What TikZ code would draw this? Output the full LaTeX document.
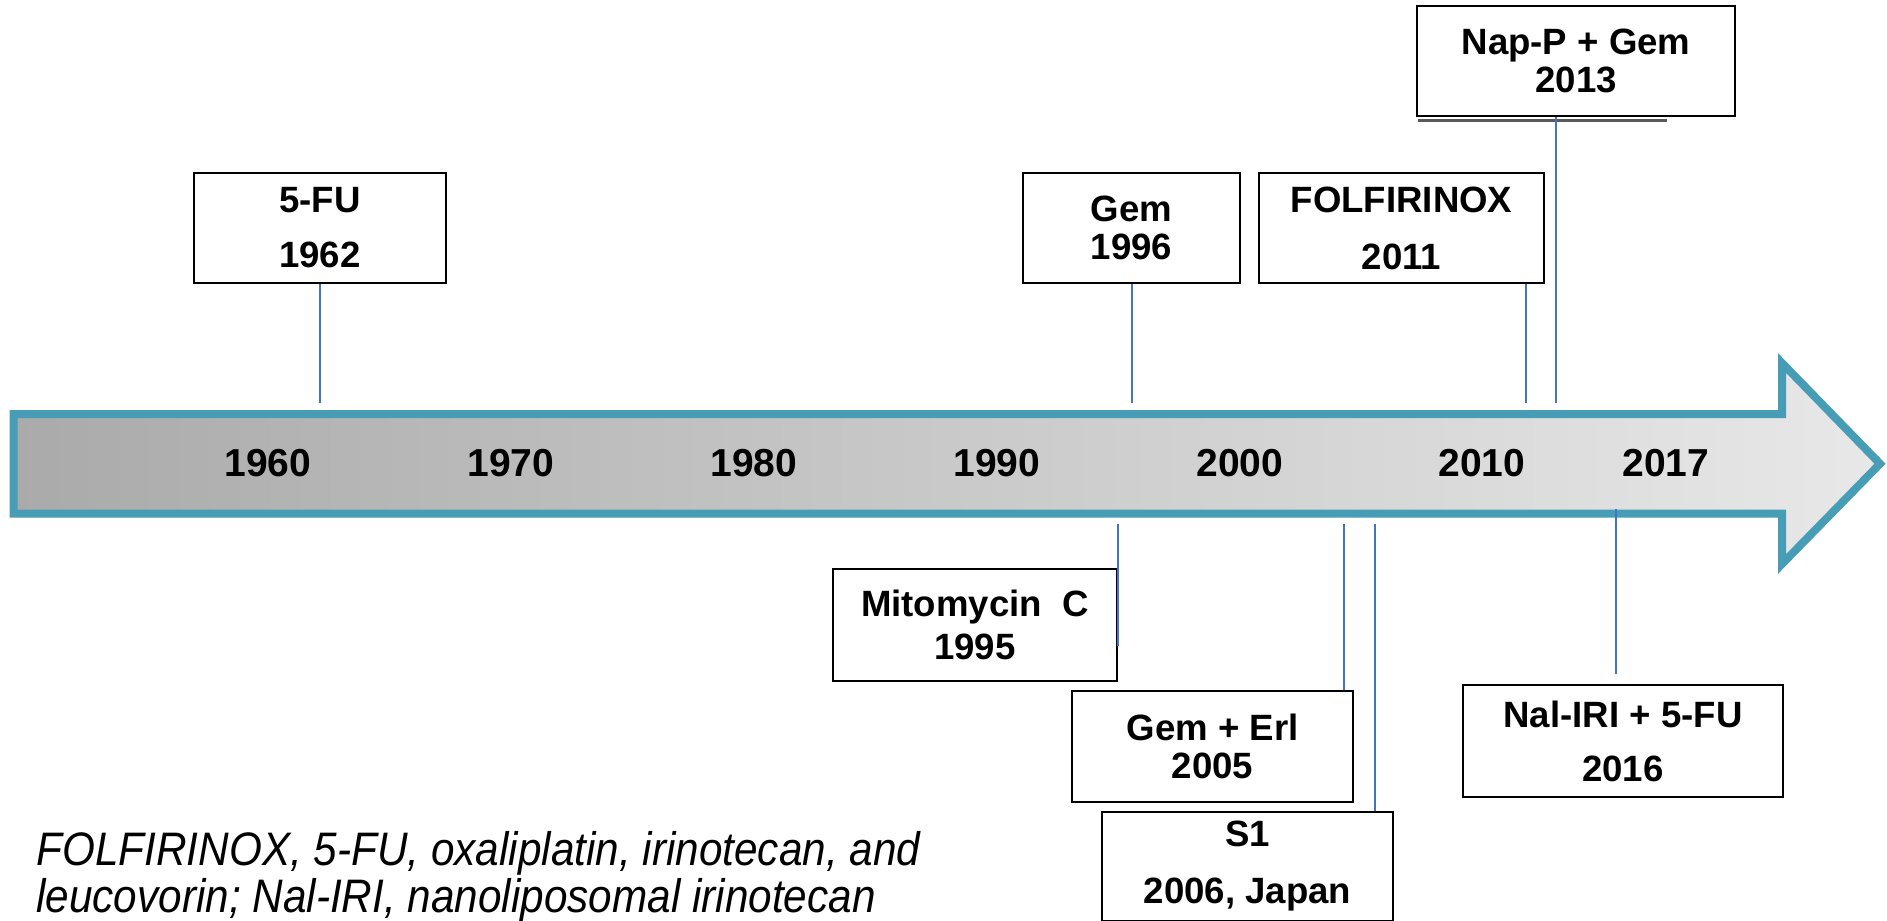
\documentclass[tikz,border=0pt]{standalone}
\usepackage{fontspec}
\setmainfont{Liberation Sans}
\newfontfamily\notefont[FakeStretch=0.9]{Liberation Sans}
\usetikzlibrary{arrows,shapes,positioning}
\definecolor{tlteal}{RGB}{71,157,181}
\definecolor{tlblue}{RGB}{68,114,196}
\definecolor{tldark}{RGB}{170,170,170}
\definecolor{tllight}{RGB}{232,232,232}
\tikzstyle{event} = [rectangle, draw=black, line width=1.2pt, fill=white, align=center, inner sep=0pt, font=\bfseries\fontsize{18.3}{19}\selectfont]
\tikzstyle{yearlabel} = [inner sep=0pt, font=\bfseries\fontsize{19.5}{20}\selectfont]
\tikzstyle{tick} = [line width=1pt, color=tlblue]
\tikzstyle{timeline} = [line width=4pt, draw=tlteal, left color=tldark, right color=tllight, miter limit=10]

\begin{document}
\begin{tikzpicture}[x=0.5pt, y=-0.5pt]
\useasboundingbox (0,0) rectangle (1887,921);
% Time arrow
\draw[timeline] (13.5,414) -- (1782,414) -- (1782,363) -- (1880,463.75) -- (1782,564) -- (1782,513.5) -- (13.5,513.5) -- cycle;

% Years on the arrow
\node (y1960) [yearlabel] at (268,463) {1960};
\node (y1970) [yearlabel, right of=y1960, node distance=121.5pt] {1970};
\node (y1980) [yearlabel, right of=y1970, node distance=121.5pt] {1980};
\node (y1990) [yearlabel, right of=y1980, node distance=121.5pt] {1990};
\node (y2000) [yearlabel, right of=y1990, node distance=121.5pt] {2000};
\node (y2010) [yearlabel, right of=y2000, node distance=121pt] {2010};
\node (y2017) [yearlabel, right of=y2010, node distance=92pt] {2017};

% Drugs above the arrow
\node (fu) [event, minimum width=126pt, minimum height=55pt] at (320,228) {5-FU\\[8.5pt]1962};
\node (gem) [event, minimum width=108.5pt, minimum height=55pt] at (1131.5,228) {Gem\\1996};
\node (folf) [event, minimum width=142.5pt, minimum height=55pt] at (1401.5,228) {FOLFIRINOX\\[9.5pt]2011};
\node (nap) [event, minimum width=159pt, minimum height=55pt] at (1576,61) {Nap-P + Gem\\2013};
\draw[line width=1.5pt, black!65] ([xshift=1pt,yshift=-1.6pt]nap.south west) -- ([xshift=125.5pt,yshift=-1.6pt]nap.south west);

% Drugs below the arrow
\node (mito) [event, minimum width=142pt, minimum height=56pt] at (975,625) {Mitomycin~ C\\[2.5pt]1995};
\node (erl) [event, minimum width=140.5pt, minimum height=55.5pt] at (1212.5,746.5) {Gem + Erl\\2005};
\node (s1) [event, minimum width=145.5pt, minimum height=54.5pt] at (1247.5,866.5) {S1\\[9.5pt]2006, Japan};
\node (nal) [event, minimum width=160pt, minimum height=56pt] at (1623,741) {Nal-IRI + 5-FU\\[8pt]2016};

% Ticks
\coordinate (fuend) at (320,403);
\coordinate (gemend) at (1132,403);
\coordinate (folfend) at (1526,403);
\coordinate (napend) at (1556,403);
\coordinate (mitotop) at (1118,524);
\coordinate (erltop) at (1344,524);
\coordinate (s1top) at (1375,524);
\coordinate (naltop) at (1616,509);
\draw[tick] (fu.south) -- (fuend);
\draw[tick] (gemend |- gem.south) -- (gemend);
\draw[tick] (folfend |- folf.south) -- (folfend);
\draw[tick] (napend |- nap.south) -- (napend);
\draw[tick] (mitotop) -- ([yshift=-10.5pt]mitotop |- mito.east);
\draw[tick] (erltop) -- (erltop |- erl.north);
\draw[tick] (s1top) -- (s1top |- s1.north);
\draw[tick] (naltop) -- ([yshift=5pt]naltop |- nal.north);

% Abbreviations
\node (note) [anchor=north west, align=left, inner sep=0pt, font=\notefont\itshape\fontsize{23.5}{23.5}\selectfont] at (36,831) {FOLFIRINOX, 5-FU, oxaliplatin, irinotecan, and\\leucovorin; Nal-IRI, nanoliposomal irinotecan};
\end{tikzpicture}
\end{document}
